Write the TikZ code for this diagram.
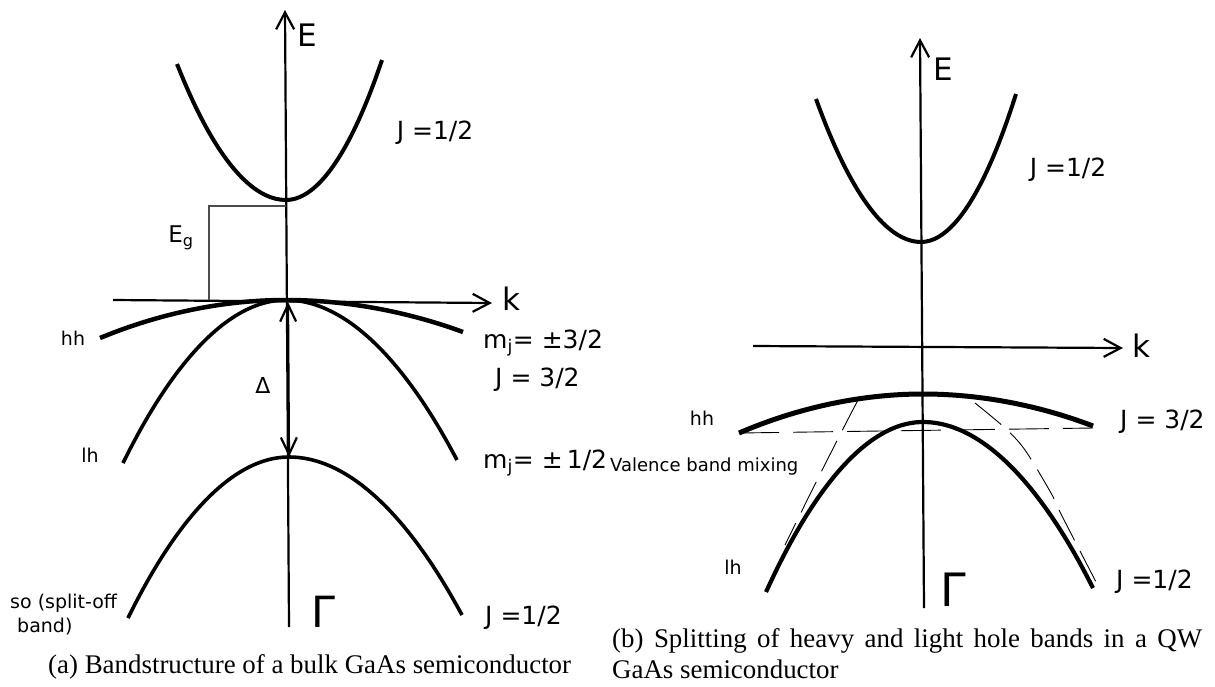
\documentclass[tikz,border=0pt]{standalone}
\usepackage{fontspec}
\setmainfont{Liberation Serif}
\newfontfamily\dvs{DejaVu Sans}
\usetikzlibrary{arrows.meta}
\begin{document}
\begin{tikzpicture}[x=1pt,y=-1pt,
  axis/.style={line width=2.2pt},
  arr/.style={-{Straight Barb[length=17pt,width=18pt,line width=2.2pt]}},
  darr/.style={{Straight Barb[length=17pt,width=16pt,line width=2.2pt]}-{Straight Barb[length=17pt,width=16pt,line width=2.2pt]}},
  band/.style={line width=4pt},
  gapline/.style={line width=1.2pt, draw=black!70},
  mixline/.style={line width=0.9pt, dash pattern=on 34pt off 12pt},
  lbl/.style={font=\dvs\fontsize{25}{30}\selectfont, inner sep=0pt},
  small/.style={font=\dvs\fontsize{19}{24}\selectfont, inner sep=0pt},
  big/.style={font=\dvs\fontsize{31}{36}\selectfont, inner sep=0pt},
  gam/.style={font=\dvs\fontsize{43}{48}\selectfont, inner sep=0pt},
  captxt/.style={font=\fontsize{26.9}{31}\selectfont, inner sep=0pt}]
\useasboundingbox (0,0) rectangle (1215,686);

% ---------- (a) bulk ----------
\coordinate (aEb) at (289,627);
\coordinate (aEt) at (285,10);
\coordinate (aKl) at (113,300);
\coordinate (aKr) at (492,303);
\coordinate (aVB) at (288,302);
\coordinate (aSO) at (289,457);
\coordinate (aCB) at (286,206);
\coordinate (aG1) at (209,206);
\coordinate (aG2) at (209,300);

\draw[axis,arr] (aEb) -- (aEt);
\draw[axis,arr] (aKl) -- (aKr);
\draw[axis,darr] (aVB) -- (aSO);
\draw[gapline] (aCB) -- (aG1) -- (aG2);

\draw[band] (177,64) parabola bend (286,200) (382,60);
\draw[band,line width=4.5pt] (100,338) parabola bend (286,300) (463,332);
\draw[band,line width=3.6pt] (123,463) parabola bend (286,300) (457,460);
\draw[band,line width=3.6pt] (128,618) parabola bend (289,457) (462,615);

\node[big] (aE) at (307,35) {E};
\node[big] (ak) at (511,299) {k};
\node[lbl] (aJc) at (435,133) {J =1/2};
\node[lbl,font=\dvs\fontsize{23}{28}\selectfont] (aEg) at (181,238) {E\textsubscript{g}};
\node[small] (ahh) at (73,338) {hh};
\node[small] (alh) at (90,455) {lh};
\node[small,align=left,anchor=base west] (aso) at (10,632) {so (split-off\\\hspace*{7pt}band)};
\node[lbl,font=\dvs\fontsize{22}{26}\selectfont] (aD) at (263,385) {Δ};
\node[gam] (aGam) at (323,612) {Γ};
\node[lbl,anchor=west] (amj3) at (483,343) {m\textsubscript{j}= ±3/2};
\node[lbl,anchor=west] (aJ3) at (495,380) {J = 3/2};
\node[lbl,anchor=west] (amj1) at (483,463) {m\textsubscript{j}= ±\,1/2};
\node[lbl,anchor=west] (aJ1) at (485,618) {J =1/2};
\node[captxt,anchor=base west] (capa) at (48,673) {(a) Bandstructure of a bulk GaAs semiconductor};

% ---------- (b) quantum well ----------
\coordinate (bEb) at (924,608);
\coordinate (bEt) at (920,38);
\coordinate (bKl) at (753,346);
\coordinate (bKr) at (1123,348);
\coordinate (bHl) at (739,433);
\coordinate (bHr) at (1093,428);

\draw[axis,arr] (bEb) -- (bEt);
\draw[axis,arr] (bKl) -- (bKr);

\draw[band] (816,99) parabola bend (921,242) (1016,94);
\draw[band,line width=5pt] (bHl) parabola bend (923,394) (1093,426);
\draw[band,line width=4.2pt] (766,592) parabola bend (923,422) (1093,588);

\draw[mixline,dash pattern=on 40pt off 14pt] (bHl) -- (bHr);
\draw[mixline] (858,400) .. controls (838,438) and (812,490) .. (785,545);
\draw[mixline] plot[smooth] coordinates {(975,403) (1005,428) (1025,450) (1051,493) (1060,512) (1096,582)};

\node[big] (bE) at (943,69) {E};
\node[big] (bk) at (1141,346) {k};
\node[lbl] (bJc) at (1068,170) {J =1/2};
\node[small] (bhh) at (702,418) {hh};
\node[small] (blh) at (733,567) {lh};
\node[small,font=\dvs\fontsize{18}{22}\selectfont,anchor=west] (bmix) at (610,467) {Valence band mixing};
\node[lbl,anchor=west] (bJ3) at (1120,422) {J = 3/2};
\node[lbl,anchor=west] (bJ1) at (1116,582) {J =1/2};
\node[gam,font=\dvs\fontsize{46}{50}\selectfont] (bGam) at (953,590) {Γ};
\node[captxt,anchor=base west,align=left] (capb) at (612,678)
  {\makebox[590pt][s]{(b) Splitting of heavy and light hole bands in a QW}\\GaAs semiconductor};
\end{tikzpicture}
\end{document}
